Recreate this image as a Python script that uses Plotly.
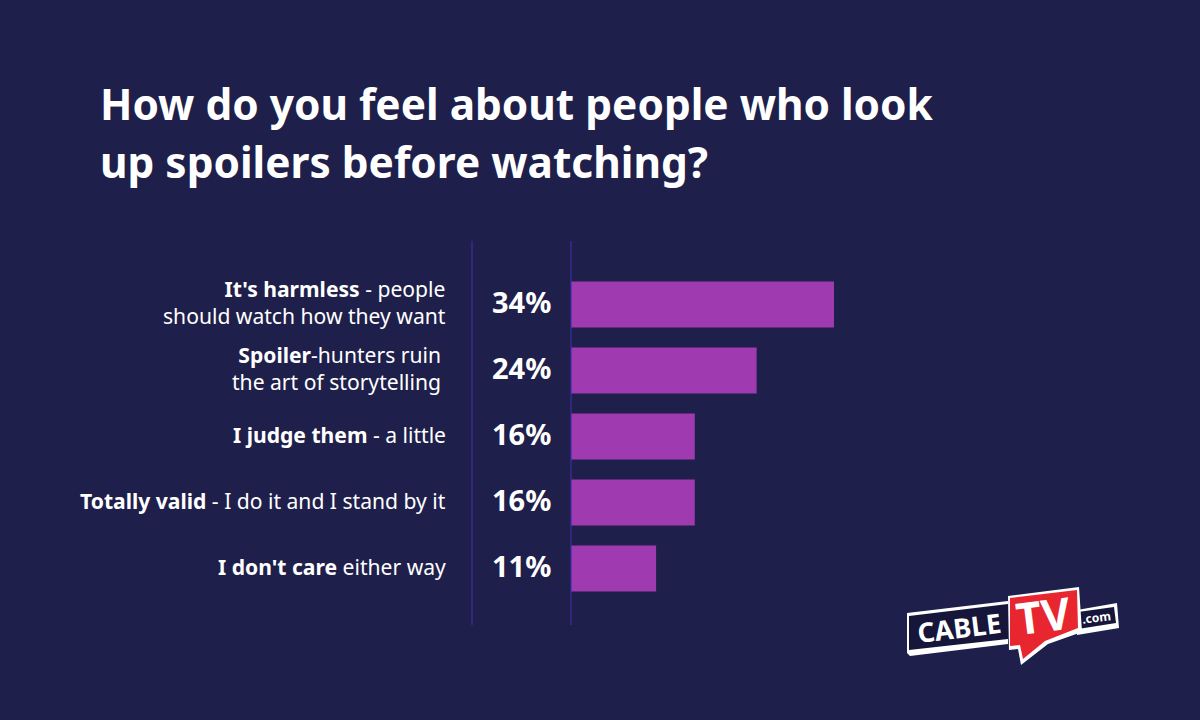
import plotly.graph_objects as go

categories = ["harmless", "ruin", "judge", "valid", "care"]
values = [34, 24, 16, 16, 11]
value_labels = ["34%", "24%", "16%", "16%", "11%"]
cat_labels = [
    "<b>It's harmless</b> - people<br>should watch how they want",
    "<b>Spoiler</b>-hunters ruin<br>the art of storytelling",
    "<b>I judge them</b> - a little",
    "<b>Totally valid</b> - I do it and I stand by it",
    "<b>I don't care</b> either way",
]
label_shift = [-123, -128, -123, -123, -123]
title_lines = ["How do you feel about people who look", "up spoilers before watching?"]
title_centers = [104, 161]

W, H = 1200, 720
BG = "#1f1f4b"
BAR = "#a03ab0"
LINE = "#3b2fa0"
FONT = "Noto Sans"
X0 = 571
PX_PER_PCT = 7.735
TOP, BOTTOM = 241, 625
CENTER0, STEP = 304.5, 66


def px(x):
    return x / W


def py(y):
    return 1 - y / H


def path(points):
    parts = [f"{'M' if i == 0 else 'L'}{px(x):.5f},{py(y):.5f}" for i, (x, y) in enumerate(points)]
    return " ".join(parts) + " Z"


fig = go.Figure(
    go.Bar(
        x=values,
        y=categories,
        orientation="h",
        marker=dict(color=BAR, line=dict(width=0)),
        hoverinfo="skip",
    )
)

annotations = []
for cat, lab, shift, val in zip(categories, cat_labels, label_shift, value_labels):
    annotations.append(dict(
        x=0, y=cat, xref="x", yref="y", text=lab, showarrow=False,
        xanchor="right", align="right", xshift=shift, yshift=2,
        font=dict(family=FONT, size=21.1, color="#ffffff"),
    ))
    annotations.append(dict(
        x=0, y=cat, xref="x", yref="y", text=f"<b>{val}</b>", showarrow=False,
        xanchor="center", xshift=-50, yshift=3,
        font=dict(family=FONT, size=29, color="#ffffff"),
    ))

for line, cy in zip(title_lines, title_centers):
    annotations.append(dict(
        x=px(98), y=py(cy), xref="paper", yref="paper", text=f"<b>{line}</b>", showarrow=False,
        xanchor="left", yanchor="middle", align="left",
        font=dict(family=FONT, size=42.4, color="#ffffff"),
    ))

# logo lettering
annotations += [
    dict(x=px(959), y=py(627), xref="paper", yref="paper", text="<b>CABLE</b>", showarrow=False,
         xanchor="center", yanchor="middle",
         textangle=-7, font=dict(family=FONT, size=27, color="#ffffff")),
    dict(x=px(1043), y=py(615), xref="paper", yref="paper", text="<b>TV</b>", showarrow=False,
         xanchor="center", yanchor="middle",
         textangle=-7, font=dict(family=FONT, size=44, color="#ffffff")),
    dict(x=px(1096), y=py(617), xref="paper", yref="paper", text="<b>.com</b>", showarrow=False,
         xanchor="center", yanchor="middle",
         textangle=-7, font=dict(family=FONT, size=12, color="#ffffff")),
]

shapes = []
for x in (472, X0):
    shapes.append(dict(type="line", xref="paper", yref="paper", x0=px(x), x1=px(x),
                       y0=py(TOP), y1=py(BOTTOM), line=dict(color=LINE, width=1.2), layer="above"))

logo = [
    ([(907, 613), (1008, 601), (1008, 644), (910, 656), (907, 653)], "#ffffff"),
    ([(909, 616), (1008, 604), (1008, 639), (909, 650)], "#16163a"),
    ([(1077, 610), (1117, 603), (1119, 628), (1077, 635)], "#ffffff"),
    ([(1078, 612), (1114, 607), (1116, 623), (1078, 629)], "#16163a"),
    ([(1008, 596), (1079, 587), (1082, 632), (1048, 644), (1021, 665), (1018, 649), (1009, 650)], "#ffffff"),
    ([(1010, 598), (1077, 590), (1078, 628), (1045, 641), (1023, 659), (1020, 645), (1010, 646)], "#e8262f"),
]
for pts, col in logo:
    shapes.append(dict(type="path", xref="paper", yref="paper", path=path(pts),
                       fillcolor=col, line=dict(width=0), layer="above"))

fig.update_layout(
    width=W, height=H, margin=dict(l=0, r=0, t=0, b=0),
    paper_bgcolor=BG, plot_bgcolor=BG,
    showlegend=False, bargap=20 / 66,
    xaxis=dict(domain=[px(X0), 1], range=[0, (W - X0) / PX_PER_PCT], visible=False),
    yaxis=dict(domain=[py(BOTTOM), py(TOP)], visible=False, type="category",
               categoryorder="array", categoryarray=categories,
               range=[(BOTTOM - CENTER0) / STEP, (TOP - CENTER0) / STEP]),
    annotations=annotations, shapes=shapes,
    font=dict(family=FONT),
)
fig.write_html(
    "out.html",
    config={"displayModeBar": False},
    post_script="document.documentElement.style.margin='0';document.body.style.margin='0';document.body.style.padding='0';document.body.style.background='#1f1f4b';",
)
